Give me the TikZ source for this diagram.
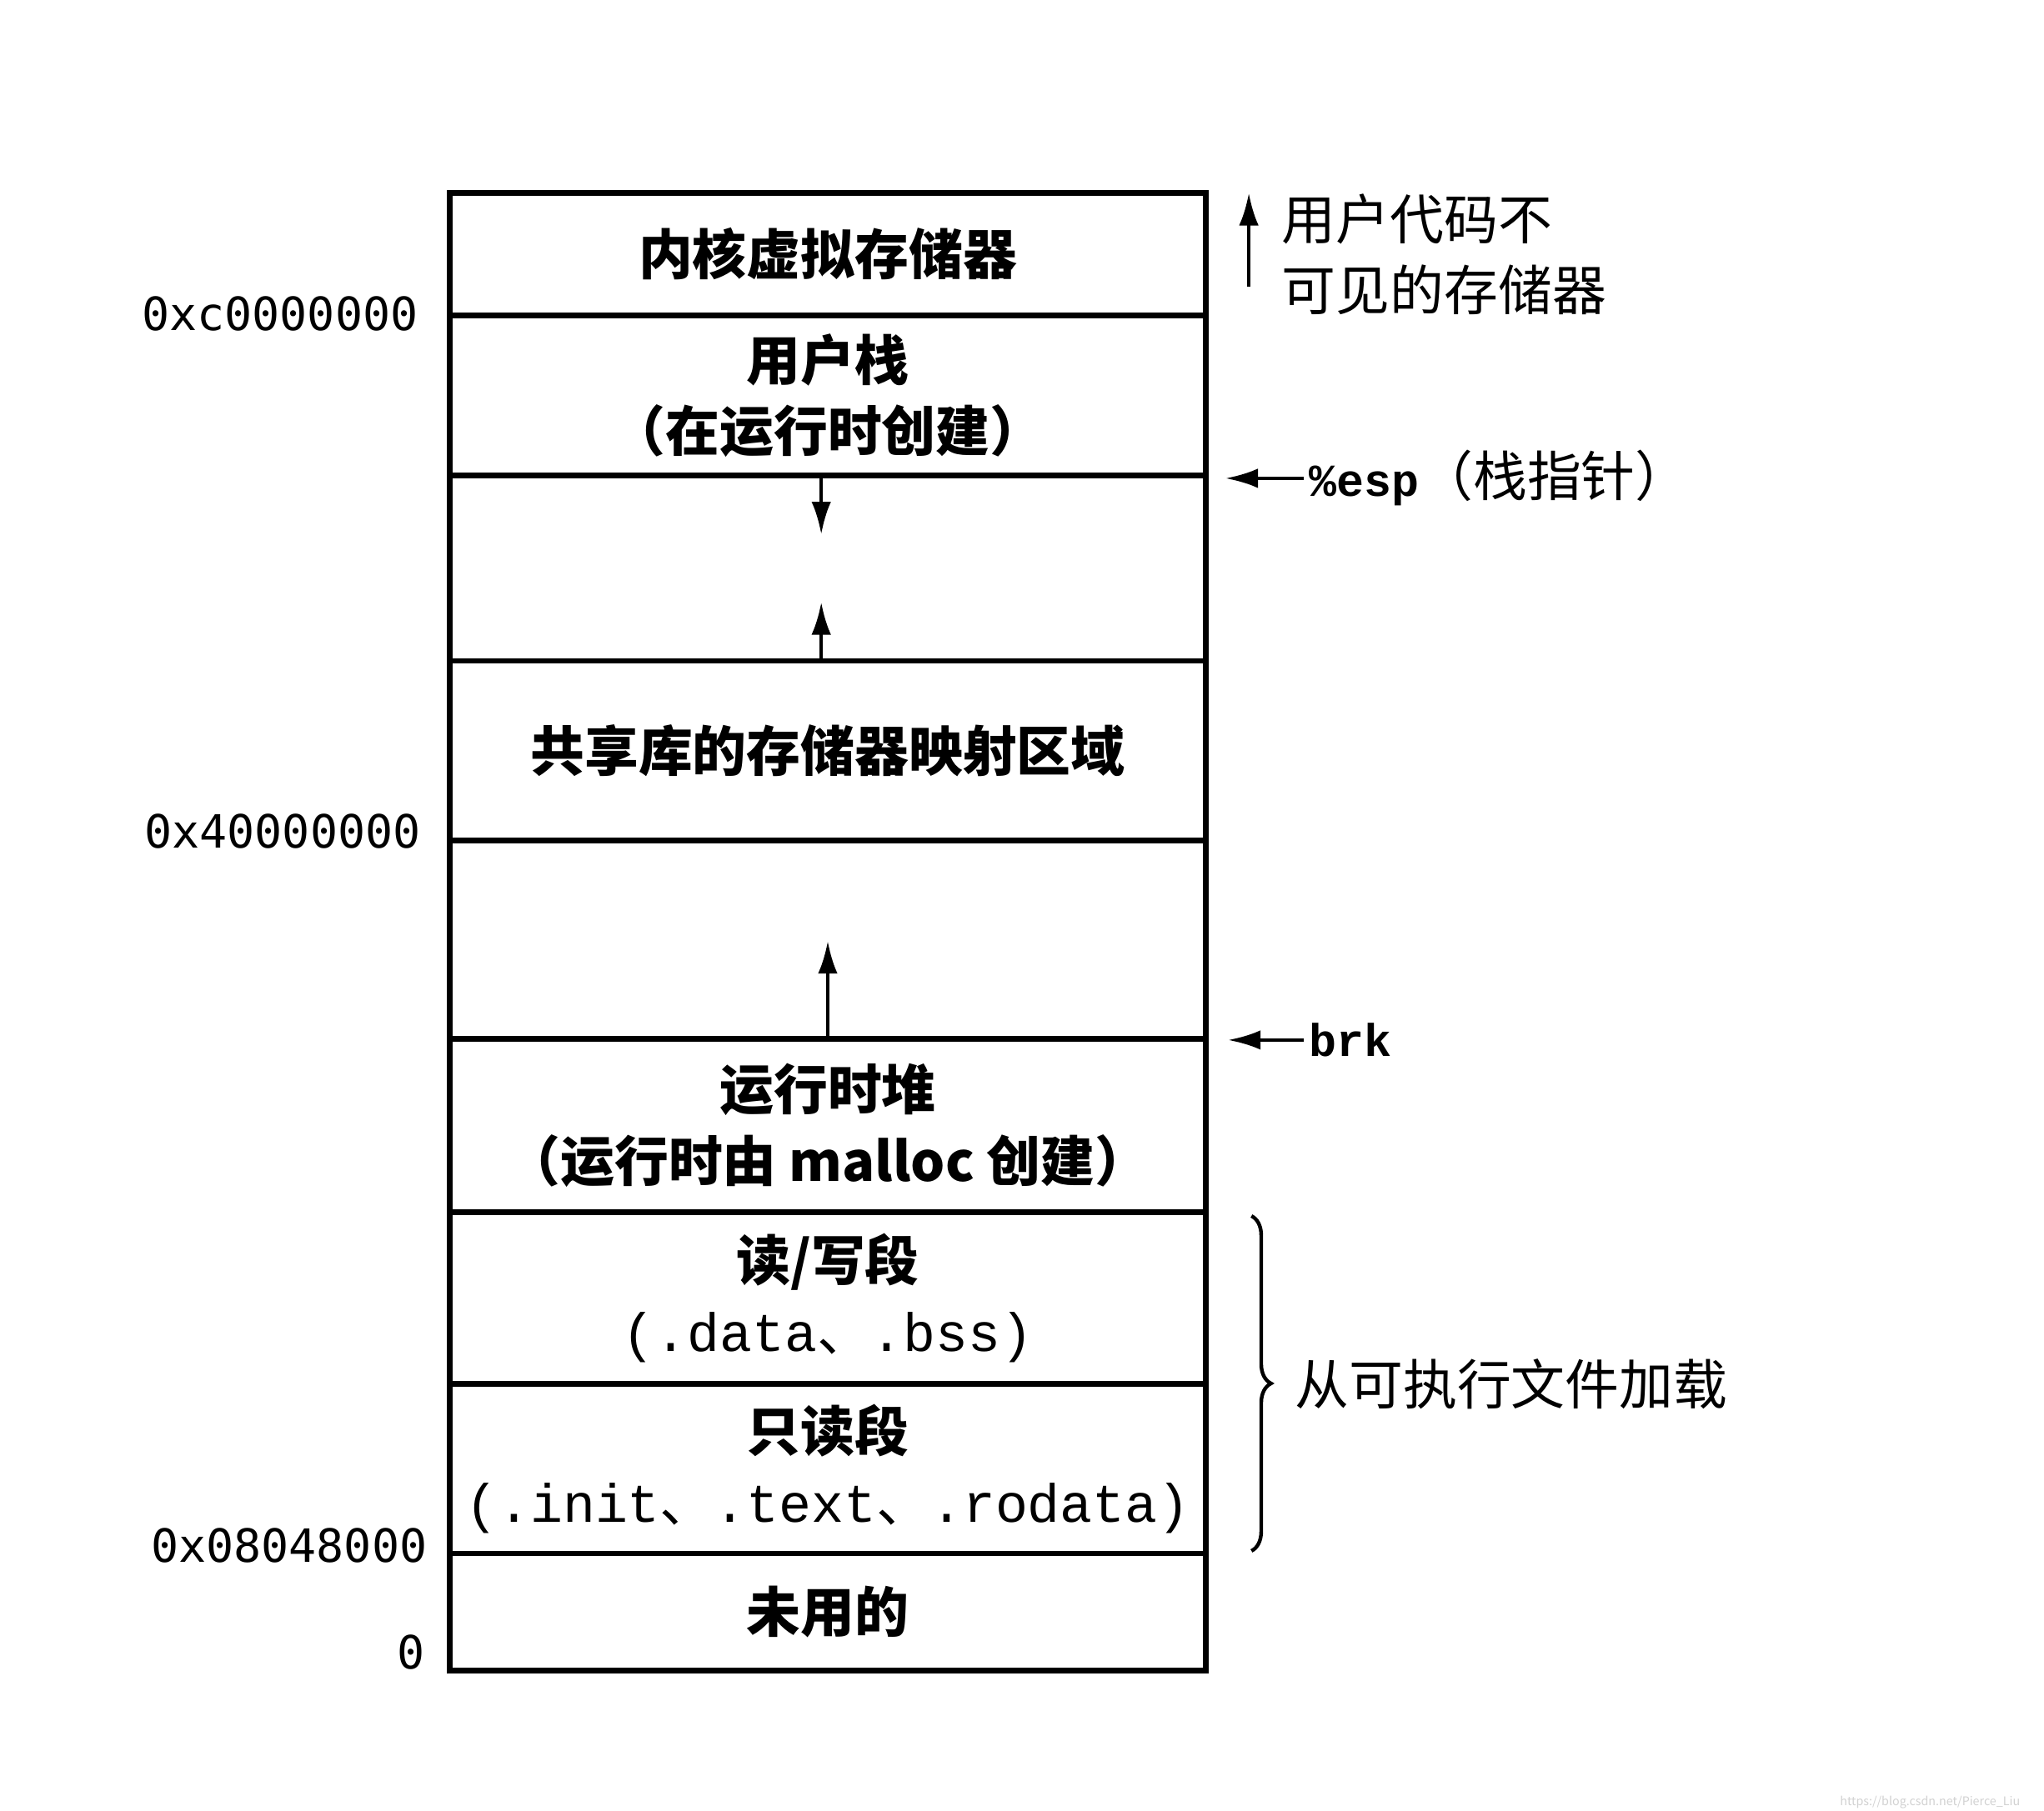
\documentclass[tikz,border=0pt]{standalone}
\usepackage{fontspec}
\setmainfont{Noto Sans CJK SC}
\newfontfamily\addrfont{DejaVu Sans Mono}
\newfontfamily\secfont{Liberation Mono}
\usetikzlibrary{positioning,arrows.meta,decorations.pathreplacing}

\begin{document}
\begin{tikzpicture}[
  seg/.style={draw, line width=1.2pt, minimum width=5.8cm, outer sep=0pt, inner sep=0pt,
    align=center, font=\fontsize{11.8}{15.5}\selectfont\bfseries},
  addr/.style={anchor=east, font=\addrfont\fontsize{10}{12}\selectfont},
  note/.style={anchor=west, align=left, font=\fontsize{11.8}{15.5}\selectfont},
  growarr/.style={-{Latex[length=2.5mm,width=1.5mm]}, line width=0.8pt},
]
% Frame
\useasboundingbox (0,0) rectangle (15.68,-13.89);

% Segments, top to bottom
\node[seg, minimum height=0.94cm] (kern) at (6.35,-1.95) {内核虚拟存储器};
\node[seg, minimum height=1.23cm, below=0pt of kern] (ustack) {用户栈\\（在运行时创建）};
\node[seg, minimum height=1.42cm, below=0pt of ustack] (gapa) {};
\node[seg, minimum height=1.38cm, below=0pt of gapa] (shlib) {共享库的存储器映射区域};
\node[seg, minimum height=1.52cm, below=0pt of shlib] (gapb) {};
\node[seg, minimum height=1.33cm, below=0pt of gapb] (heap) {运行时堆\\（运行时由 malloc 创建）};
\node[seg, minimum height=1.32cm, below=0pt of heap] (rwseg) {读/写段\\{\secfont\mdseries (.data{\normalfont、}.bss)}};
\node[seg, minimum height=1.30cm, below=0pt of rwseg] (roseg) {只读段\\{\secfont\mdseries (.init{\normalfont、}.text{\normalfont、}.rodata)}};
\node[seg, minimum height=0.90cm, below=0pt of roseg] (unused) {未用的};

% Growth arrows
\coordinate (sdown) at ([xshift=-0.05cm,yshift=-0.45cm]gapa.north);
\draw[growarr] ([xshift=-0.05cm]gapa.north) -- (sdown);
\coordinate (mup) at ([xshift=-0.05cm,yshift=0.45cm]gapa.south);
\draw[growarr] ([xshift=-0.05cm]gapa.south) -- (mup);
\coordinate (hup) at ([yshift=0.75cm]gapb.south);
\draw[growarr] (gapb.south) -- (hup);

% Addresses
\node[addr] (akern) at ([xshift=-0.12cm,yshift=0.01cm]kern.south west) {0xc0000000};
\node[addr] (ashlib) at ([xshift=-0.1cm,yshift=0.07cm]shlib.south west) {0x40000000};
\node[addr] (aro) at ([xshift=-0.05cm,yshift=0.06cm]roseg.south west) {0x08048000};
\node[addr] (azero) at ([xshift=-0.07cm,yshift=0.14cm]unused.south west) {0};

% Kernel note
\coordinate (kfoot) at ([xshift=0.33cm,yshift=0.22cm]kern.south east);
\coordinate (khead) at ([xshift=0.33cm]kern.north east);
\draw[growarr] (kfoot) -- (khead);
\node[note] (knote) at ([xshift=0.46cm]kern.east) {用户代码不\\可见的存储器};

% Pointers
\coordinate (esptip) at ([xshift=0.15cm,yshift=-0.02cm]ustack.south east);
\node[note, inner xsep=1pt] (esp) at ([xshift=0.75cm,yshift=-0.02cm]ustack.south east) {{\secfont\bfseries\fontsize{10}{12}\selectfont\%esp}（栈指针）};
\draw[growarr] (esp.west) -- (esptip);
\coordinate (brktip) at ([xshift=0.17cm,yshift=-0.01cm]gapb.south east);
\node[note, inner xsep=1pt] (brk) at ([xshift=0.75cm,yshift=-0.01cm]gapb.south east) {\secfont\bfseries\fontsize{10}{12}\selectfont brk};
\draw[growarr] (brk.west) -- (brktip);

% Loaded part
\coordinate (btop) at ([xshift=0.35cm,yshift=-0.03cm]rwseg.north east);
\coordinate (bbot) at ([xshift=0.35cm,yshift=0.02cm]roseg.south east);
\draw[decorate, decoration={brace, amplitude=0.15cm}, line width=0.8pt] (btop) -- (bbot);
\node[note] (loadnote) at ([xshift=0.56cm]rwseg.south east) {从可执行文件加载};

% Watermark
\node[anchor=east, text=black!18, font=\fontsize{2.6}{3}\selectfont] (wmark) at (15.62,-13.83) {https://blog.csdn.net/Pierce\_Liu};
\end{tikzpicture}
\end{document}
